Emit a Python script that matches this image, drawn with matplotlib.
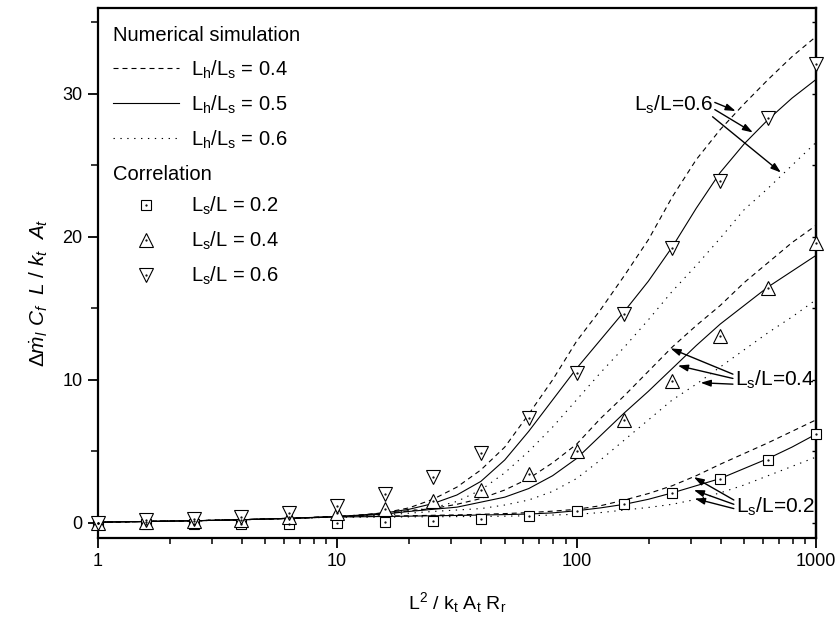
import matplotlib
matplotlib.use("Agg")
import matplotlib.pyplot as plt
from matplotlib.legend_handler import HandlerTuple

plt.rcParams['font.family'] = ['Liberation Sans', 'DejaVu Sans']
plt.rcParams['mathtext.fontset'] = 'custom'
plt.rcParams['mathtext.rm'] = 'Liberation Sans'
plt.rcParams['mathtext.it'] = 'Liberation Sans:italic'
plt.rcParams['mathtext.default'] = 'regular'

# ---- data ----
# x positions of the simulation curves
x_sim = [1, 1.585, 2.512, 3.981, 6.31, 10, 12.59, 15.85, 19.95, 25.12, 31.62, 39.81,
         50.12, 63.1, 79.43, 100, 125.9, 158.5, 199.5, 251.2, 316.2, 398.1, 501.2,
         631, 794.3, 1000]

# numerical simulation: Ls/L = 0.6
sim06_h04 = [0.05, 0.1, 0.15, 0.22, 0.32, 0.45, 0.55, 0.72, 1.05, 1.65, 2.5, 3.7, 5.3,
             7.6, 10.0, 12.7, 14.9, 17.3, 19.8, 22.8, 25.4, 27.5, 29.3, 31.0, 32.6, 34.0]
sim06_h05 = [0.05, 0.1, 0.15, 0.22, 0.32, 0.45, 0.55, 0.7, 0.95, 1.35, 1.95, 2.9, 4.4,
             6.4, 8.6, 10.8, 12.8, 14.8, 16.9, 19.3, 22.0, 24.5, 26.5, 28.2, 29.7, 31.0]
sim06_h06 = [0.05, 0.1, 0.15, 0.22, 0.32, 0.42, 0.5, 0.62, 0.85, 1.05, 1.5, 2.3, 3.5,
             5.0, 6.7, 8.6, 10.5, 12.3, 14.2, 16.2, 18.0, 19.9, 21.9, 23.4, 25.0, 26.6]
# Ls/L = 0.4
sim04_h04 = [0.05, 0.1, 0.15, 0.22, 0.32, 0.45, 0.55, 0.65, 0.85, 1.0, 1.3, 1.7, 2.3,
             3.1, 4.2, 5.5, 7.3, 8.9, 10.6, 12.3, 13.8, 15.2, 16.8, 18.2, 19.6, 20.8]
sim04_h05 = [0.05, 0.1, 0.15, 0.22, 0.32, 0.43, 0.52, 0.62, 0.8, 0.95, 1.1, 1.45, 1.8,
             2.4, 3.3, 4.5, 6.1, 7.7, 9.2, 10.8, 12.4, 13.9, 15.2, 16.5, 17.6, 18.7]
sim04_h06 = [0.05, 0.1, 0.15, 0.22, 0.32, 0.42, 0.48, 0.55, 0.68, 0.8, 0.9, 1.0, 1.25,
             1.6, 2.2, 3.1, 4.4, 5.8, 7.2, 8.6, 9.7, 10.9, 12.1, 13.3, 14.4, 15.6]
# Ls/L = 0.2
sim02_h04 = [0.05, 0.1, 0.15, 0.22, 0.32, 0.42, 0.45, 0.48, 0.5, 0.53, 0.56, 0.6, 0.65,
             0.72, 0.82, 0.95, 1.2, 1.6, 2.05, 2.6, 3.3, 4.1, 4.85, 5.6, 6.4, 7.2]
sim02_h05 = [0.05, 0.1, 0.15, 0.22, 0.32, 0.42, 0.43, 0.45, 0.47, 0.5, 0.52, 0.55, 0.58,
             0.62, 0.7, 0.85, 1.05, 1.3, 1.65, 2.1, 2.6, 3.1, 3.8, 4.5, 5.3, 6.2]
sim02_h06 = [0.05, 0.1, 0.15, 0.22, 0.32, 0.4, 0.4, 0.4, 0.42, 0.43, 0.44, 0.45, 0.47,
             0.5, 0.55, 0.6, 0.72, 0.9, 1.08, 1.3, 1.65, 2.1, 2.65, 3.3, 3.95, 4.6]

# correlation points
x_corr = [1, 1.585, 2.512, 3.981, 6.31, 10, 15.85, 25.12, 39.81, 63.1,
          100, 158.5, 251.2, 398.1, 631, 1000]
corr_02 = [0.0, -0.1, -0.1, -0.1, -0.1, 0.0, 0.05, 0.15, 0.3, 0.5, 0.85, 1.3, 2.1, 3.1, 4.4, 6.2]
corr_04 = [0.0, 0.05, 0.1, 0.2, 0.4, 0.7, 1.0, 1.5, 2.3, 3.4, 5.0, 7.2, 9.9, 13.1, 16.4, 19.6]
corr_06 = [0.0, 0.2, 0.25, 0.4, 0.7, 1.2, 2.0, 3.2, 4.9, 7.3, 10.5, 14.6, 19.2, 23.9, 28.3, 32.1]

sim_labels = [r'L$_h$/L$_s$ = 0.4', r'L$_h$/L$_s$ = 0.5', r'L$_h$/L$_s$ = 0.6']
corr_labels = [r'L$_s$/L = 0.2', r'L$_s$/L = 0.4', r'L$_s$/L = 0.6']
x_ticks = [1, 10, 100, 1000]
x_ticklabels = ['1', '10', '100', '1000']
y_ticks = [0, 10, 20, 30]

# ---- figure ----
fig = plt.figure(figsize=(8.36, 6.19), dpi=100)
ax = fig.add_axes([0.117, 0.131, 0.859, 0.856])

lw = 0.8
dash = (0, (4.5, 3.6))
dot = (0, (1.2, 5.0))
styles = [dash, '-', dot]

groups = [
    [sim06_h04, sim06_h05, sim06_h06],
    [sim04_h04, sim04_h05, sim04_h06],
    [sim02_h04, sim02_h05, sim02_h06],
]
legend_lines = None
for g in groups:
    lines = []
    for ys, st in zip(g, styles):
        ln, = ax.plot(x_sim, ys, color='black', lw=lw, linestyle=st, zorder=2)
        lines.append(ln)
    if legend_lines is None:
        legend_lines = lines

marker_handles = []
for ys, mk, ms in zip([corr_02, corr_04, corr_06], ['s', '^', 'v'], [7.5, 9.5, 9.5]):
    m, = ax.plot(x_corr, ys, linestyle='none', marker=mk, ms=ms, mfc='white',
                 mec='black', mew=0.8, clip_on=False, zorder=4)
    d, = ax.plot(x_corr, ys, linestyle='none', marker='.', ms=1.2, color='black',
                 clip_on=False, zorder=5)
    marker_handles.append((m, d))

ax.set_xscale('log')
ax.set_xlim(1, 1000)
ax.set_ylim(-1.05, 36)
ax.set_xticks(x_ticks)
ax.set_xticklabels(x_ticklabels)
ax.set_yticks(y_ticks)
ax.set_yticks([5, 15, 25, 35], minor=True)

for sp in ax.spines.values():
    sp.set_linewidth(1.6)
ax.tick_params(axis='both', which='major', direction='out', length=7, width=1.3,
               labelsize=13, pad=4)
ax.tick_params(axis='both', which='minor', direction='out', length=4.5, width=1.1)
ax.tick_params(axis='y', which='minor', length=5)

sec = ax.secondary_yaxis('right')
sec.set_yticks([0, 5, 10, 15, 20, 25, 30, 35])
sec.tick_params(direction='in', length=3, width=1.0, labelright=False)
sec.spines['right'].set_linewidth(1.6)

ax.set_xlabel(r'L$^2$ / k$_t$ A$_t$ R$_r$', fontsize=14, labelpad=14)
ax.set_ylabel(r'$\mathit{\Delta\dot{m}_l \ C_f\ \ L\ /\ k_t\ \ A_t}$', fontsize=15)
ax.yaxis.set_label_coords(-0.066, 0.462)

# legend headers and legends
ax.text(0.021, 0.949, 'Numerical simulation', transform=ax.transAxes,
        fontsize=14.5, va='center', ha='left')
ax.text(0.021, 0.685, 'Correlation', transform=ax.transAxes,
        fontsize=14.5, va='center', ha='left')

leg_kw = dict(loc='upper left', frameon=False, fontsize=14.5, handlelength=3.3,
              handletextpad=0.6, labelspacing=0.63, borderpad=0, borderaxespad=0)
leg1 = ax.legend(legend_lines, sim_labels, bbox_to_anchor=(0.021, 0.905), **leg_kw)
ax.add_artist(leg1)
leg2 = ax.legend(marker_handles, corr_labels, bbox_to_anchor=(0.021, 0.647),
                 handler_map={tuple: HandlerTuple(ndivide=1)}, **leg_kw)

# annotations
arrow_kw = dict(arrowstyle='-|>,head_length=0.6,head_width=0.2', color='black', lw=1.0,
                shrinkA=0, shrinkB=0)
ax.text(373, 29.2, r'L$_s$/L=0.6', fontsize=15, ha='right', va='center')
for start, tip in [((378, 29.4), (462, 28.8)), ((378, 28.9), (545, 27.3)),
                   ((370, 28.4), (714, 24.5))]:
    ax.annotate('', xy=tip, xytext=start, arrowprops=arrow_kw)

ax.text(460, 10.0, r'L$_s$/L=0.4', fontsize=15, ha='left', va='center')
for start, tip in [((450, 10.4), (247, 12.2)), ((450, 10.1), (265, 11.0)),
                   ((450, 9.7), (330, 9.8))]:
    ax.annotate('', xy=tip, xytext=start, arrowprops=arrow_kw)

ax.text(462, 1.1, r'L$_s$/L=0.2', fontsize=15, ha='left', va='center')
for start, tip in [((454, 1.6), (309, 3.2)), ((454, 1.3), (309, 2.3)),
                   ((454, 1.0), (312, 1.7))]:
    ax.annotate('', xy=tip, xytext=start, arrowprops=arrow_kw)

fig.savefig('out.png', dpi=100)
